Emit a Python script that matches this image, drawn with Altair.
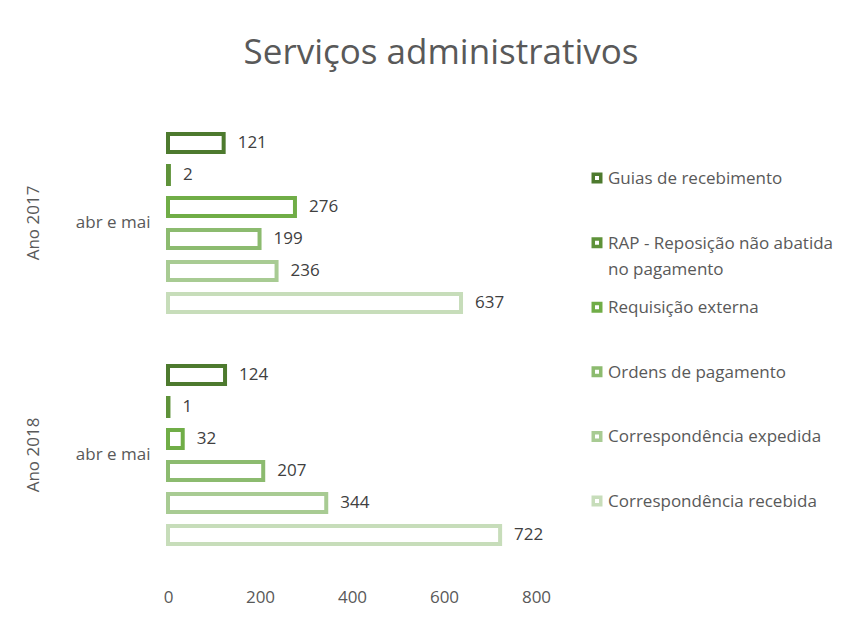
import altair as alt
import pandas as pd

years = ["Ano 2017", "Ano 2018"]
series = [
    "Guias de recebimento",
    "RAP - Reposição não abatida no pagamento",
    "Requisição externa",
    "Ordens de pagamento",
    "Correspondência expedida",
    "Correspondência recebida",
]
legend_labels = [
    "Guias de recebimento",
    "RAP - Reposição não abatida\nno pagamento",
    "Requisição externa",
    "Ordens de pagamento",
    "Correspondência expedida",
    "Correspondência recebida",
]
vals_2017 = [121, 2, 276, 199, 236, 637]
vals_2018 = [124, 1, 32, 207, 344, 722]
colors = ["#4D7A2E", "#5E9239", "#70AD47", "#8CBB6F", "#A8CB93", "#C7DDBA"]
x_ticks = [0, 200, 400, 600, 800]

rows = []
for y, vals in zip(years, [vals_2017, vals_2018]):
    for s, v in zip(series, vals):
        rows.append({"Ano": y, "serie": s, "valor": v})
df = pd.DataFrame(rows)
leg = pd.DataFrame({"serie": series, "label": legend_labels,
                    "ordem": list(range(len(series)))})

FONT = "Open Sans"
TXT = "#595959"
FS = 17

color_scale = alt.Scale(domain=series, range=colors)
y_scale = alt.Scale(domain=years, paddingInner=0.1724, paddingOuter=0.0862)
yoff_scale = alt.Scale(domain=series, paddingInner=0.4375, paddingOuter=0.21875)

base = alt.Chart(df)

bars = base.mark_bar(fill="white", strokeWidth=4).encode(
    x=alt.X("valor:Q", scale=alt.Scale(domain=[0, 800]),
            axis=alt.Axis(values=x_ticks, grid=False, domain=False, ticks=False,
                          labelPadding=18, labelFlush=False, title=None)),
    y=alt.Y("Ano:N", scale=y_scale,
            axis=alt.Axis(labelExpr="'abr e mai'", domain=False, ticks=False,
                          labelPadding=18, title=None)),
    yOffset=alt.YOffset("serie:N", scale=yoff_scale, sort=series),
    stroke=alt.Stroke("serie:N", scale=color_scale, legend=None),
)

values = base.mark_text(align="left", baseline="middle", dx=14, fontSize=FS,
                        font=FONT, color="#404040").encode(
    x="valor:Q",
    y=alt.Y("Ano:N", scale=y_scale),
    yOffset=alt.YOffset("serie:N", scale=yoff_scale, sort=series),
    text="valor:Q",
)

year_lbl = alt.Chart(pd.DataFrame({"Ano": years})).mark_text(
    angle=270, align="center", baseline="middle", fontSize=FS, font=FONT, color=TXT
).encode(
    x=alt.value(-134),
    y=alt.Y("Ano:N", scale=y_scale),
    text="Ano:N",
)

main = alt.layer(bars, values, year_lbl)

leg_y = alt.Y("ordem:Q", scale=alt.Scale(domain=[-1.1, 6.083], reverse=True, nice=False,
                                         zero=False), axis=None)
leg_sym = alt.Chart(leg).mark_point(shape="square", filled=False, fill="white",
                                    fillOpacity=1, strokeWidth=3.5, size=56, opacity=1).encode(
    x=alt.value(429),
    y=leg_y,
    stroke=alt.Stroke("serie:N", scale=color_scale, legend=None),
)
leg_txt = alt.Chart(leg).mark_text(align="left", baseline="alphabetic", dy=6,
                                   lineBreak="\n", lineHeight=26, fontSize=FS,
                                   font=FONT, color=TXT).encode(
    x=alt.value(440),
    y=leg_y,
    text="label:N",
)
legend = alt.layer(leg_sym, leg_txt)

chart = alt.layer(main, legend).resolve_scale(y="independent").properties(
    width=368, height=464,
    padding={"left": 17, "top": 28, "right": 5, "bottom": 5},
    title=alt.Title("Serviços administrativos", fontSize=35, font=FONT,
                    color=TXT, fontWeight="normal", anchor="middle", offset=36, dx=89),
).configure_view(stroke=None).configure_axis(
    labelFontSize=FS, labelFont=FONT, labelColor=TXT
)

chart.save("out.html", embed_options={"renderer": "svg", "actions": False})
